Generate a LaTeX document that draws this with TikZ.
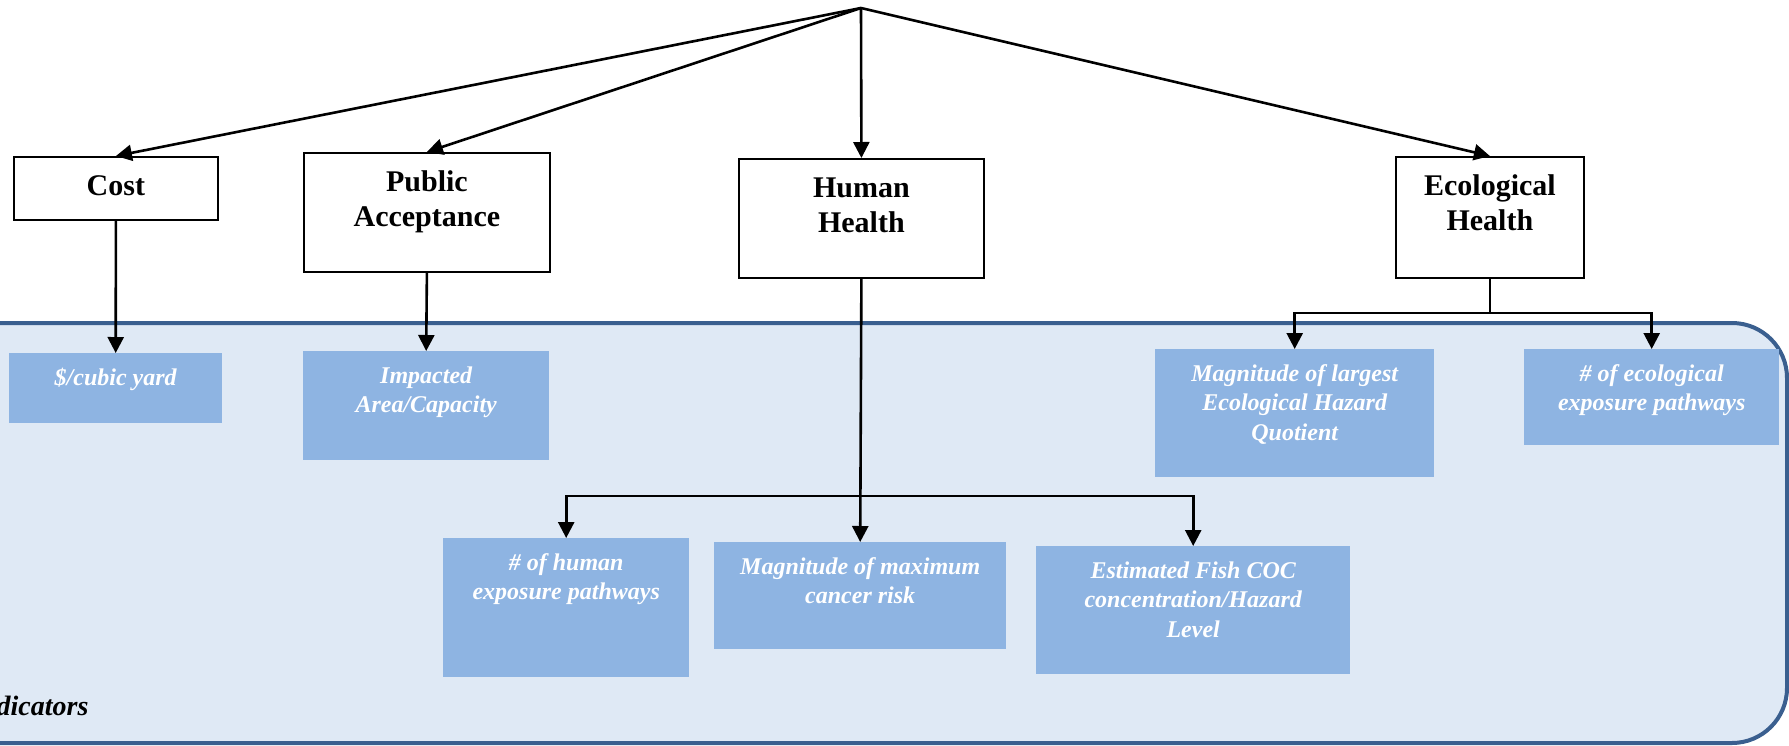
\documentclass[tikz,border=0pt]{standalone}
\usepackage{fontspec}
\setmainfont{Liberation Serif}
\usetikzlibrary{arrows.meta,calc}

\definecolor{panelfill}{RGB}{223,233,245}
\definecolor{panelline}{RGB}{58,95,143}
\definecolor{indfill}{RGB}{142,180,226}

% criterion box: width, height, text (set at the top of the box)
\newcommand{\critbox}[3]{\parbox[c][#2][t]{#1}{\centering\fontsize{30}{35}\selectfont\bfseries
  \vspace*{18pt}\rule{0pt}{21pt}#3}}
% indicator box: width, height, text
\newcommand{\indbox}[3]{\parbox[c][#2][t]{#1}{\centering\fontsize{24}{29.5}\selectfont\bfseries\itshape\color{white}
  \vspace*{15pt}\rule{0pt}{17pt}#3}}

\begin{document}
\begin{tikzpicture}[x=1pt,y=-1pt,
  critnode/.style={draw=black, line width=1.8pt, fill=white, inner sep=0pt, anchor=north west},
  indnode/.style={fill=indfill, inner sep=0pt, anchor=north west},
  conn/.style={draw=black, line width=2.6pt, -{Triangle[length=16pt,width=16pt]}},
  plain/.style={draw=black, line width=2.6pt}]
\useasboundingbox (0,0) rectangle (1789,745);

% indicator panel
\draw[panelline, fill=panelfill, line width=4pt, rounded corners=55pt] (-200,323) rectangle (1787,743);
\node[anchor=base east, font=\fontsize{28}{32}\selectfont\bfseries\itshape] (lbl) at (92,715) {Indicators};

% criteria
\coordinate (apex) at (861,8);
\node[critnode] (cost) at (13,156) {\critbox{204pt}{63pt}{Cost}};
\node[critnode] (pa) at (303,152) {\critbox{246pt}{119pt}{Public\\Acceptance}};
\node[critnode] (hh) at (738,158) {\critbox{245pt}{119pt}{Human\\Health}};
\node[critnode] (eco) at (1395,156) {\critbox{188pt}{121pt}{Ecological\\Health}};

% indicators
\node[indnode] (cubic) at (9,353) {\indbox{213pt}{70pt}{\$/cubic yard}};
\node[indnode] (imp) at (303,351) {\indbox{246pt}{109pt}{Impacted\\Area/Capacity}};
\node[indnode] (hpath) at (443,538) {\indbox{246pt}{139pt}{\# of human\\exposure pathways}};
\node[indnode] (mmax) at (714,542) {\indbox{292pt}{107pt}{Magnitude of maximum\\cancer risk}};
\node[indnode] (fish) at (1036,546) {\indbox{314pt}{128pt}{Estimated Fish COC\\concentration/Hazard\\Level}};
\node[indnode] (mlarge) at (1155,349) {\indbox{279pt}{128pt}{Magnitude of largest\\Ecological Hazard\\Quotient}};
\node[indnode] (epath) at (1524,349) {\indbox{255pt}{96pt}{\# of ecological\\exposure pathways}};

% goal to criteria
\draw[conn] (apex) -- (cost.north);
\draw[conn] (apex) -- (pa.north);
\draw[conn] (apex) -- (hh.north);
\draw[conn] (apex) -- (eco.north);

% criteria to indicators
\draw[conn] (cost.south) -- (cubic.north);
\draw[conn] (pa.south) -- (imp.north);
\coordinate (hj) at (hh.south |- 0,496);
\draw[conn] (hh.south) -- (mmax.north);
\draw[conn] (hj) -| (hpath.north);
\draw[conn] (hj) -| (fish.north);
\coordinate (ej) at (eco.south |- 0,313);
\draw[plain] (eco.south) -- (ej);
\draw[conn] (ej) -| (mlarge.north);
\draw[conn] (ej) -| (epath.north);
\end{tikzpicture}
\end{document}
